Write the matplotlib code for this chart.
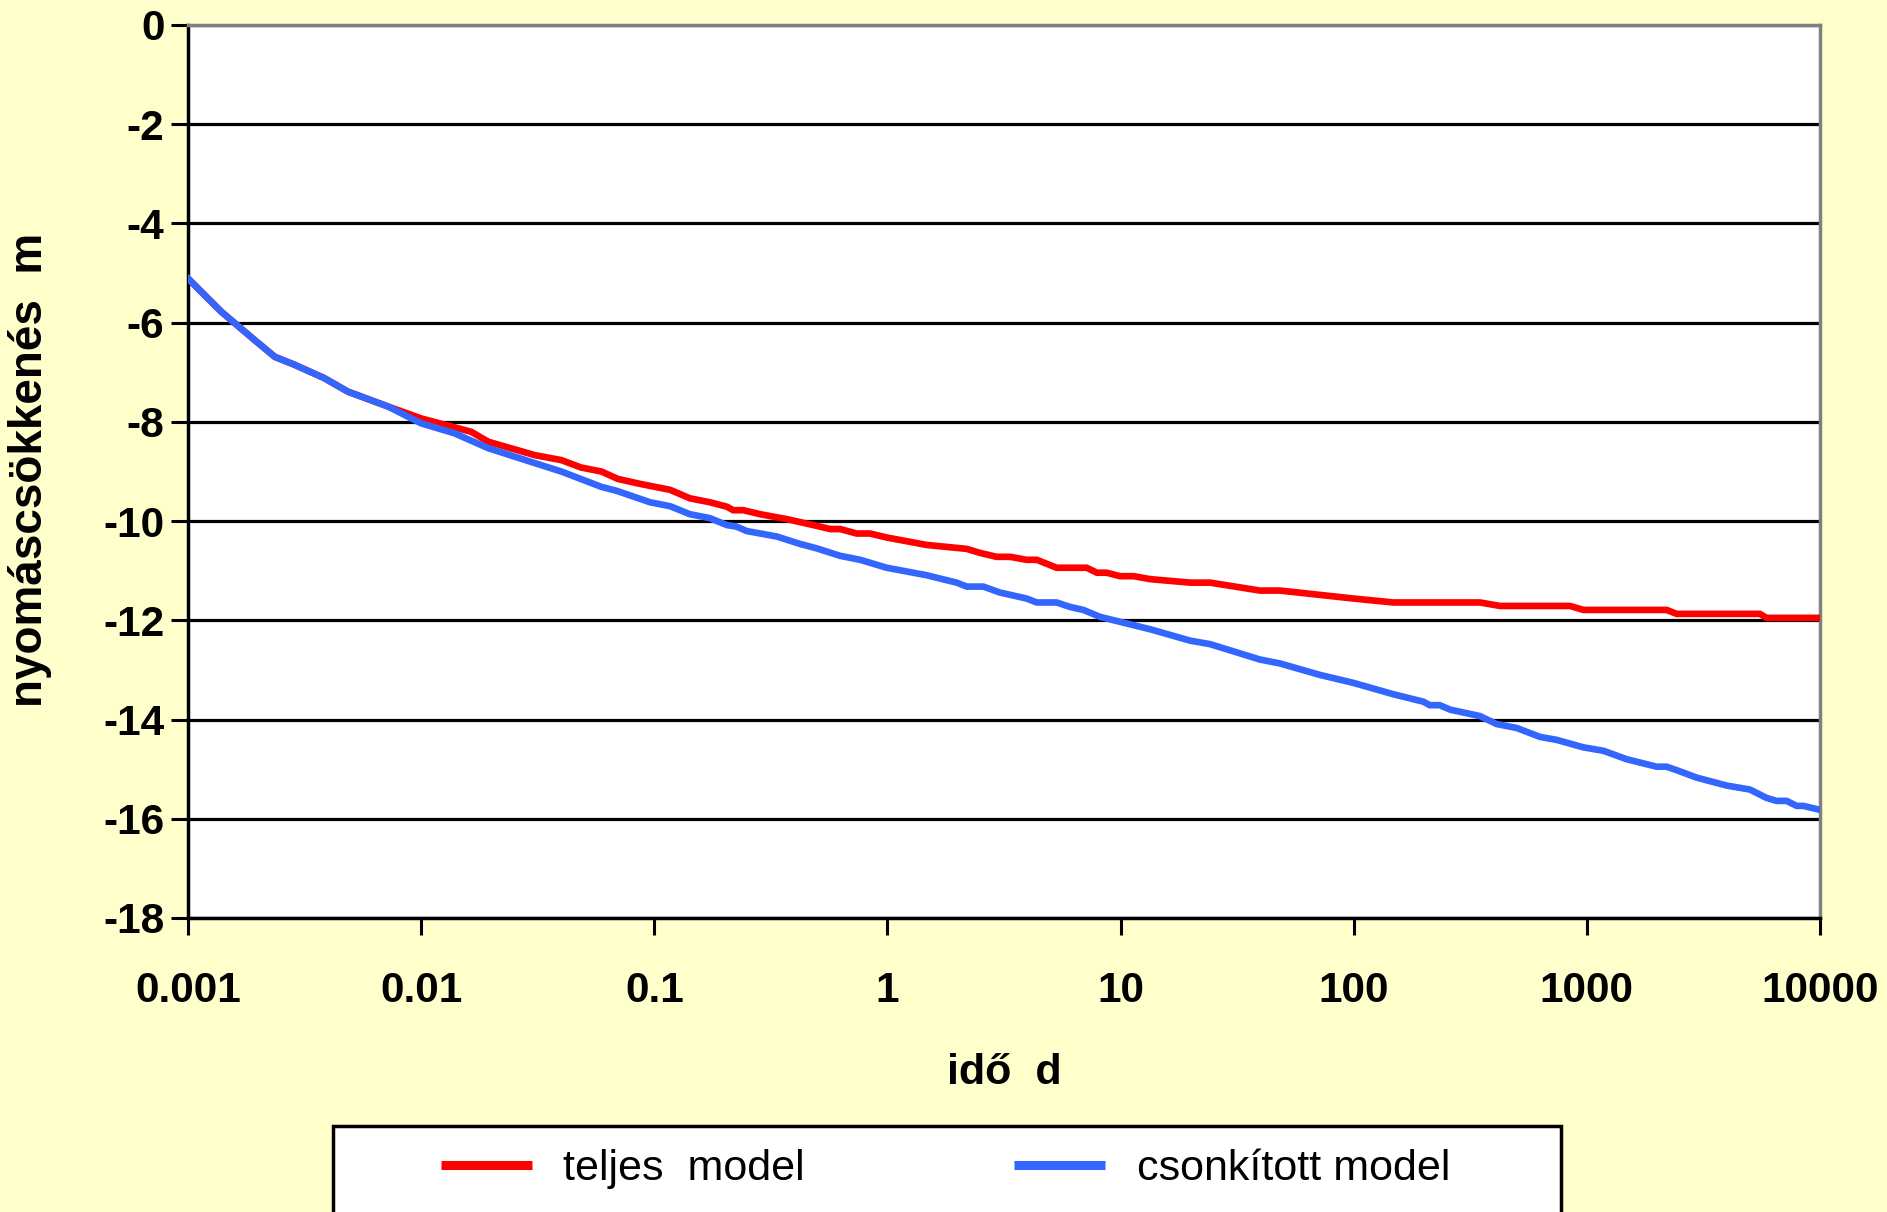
import matplotlib
matplotlib.use("Agg")
import matplotlib.pyplot as plt
from matplotlib.patches import Rectangle
from matplotlib.lines import Line2D

plt.rcParams['font.family'] = ['Liberation Sans', 'DejaVu Sans']

# ---- data ----
time_blue = [0.001, 0.00139, 0.00193, 0.00236, 0.00287, 0.00385, 0.00485, 0.00721,
             0.0100, 0.0139, 0.0194, 0.0307, 0.0399, 0.0593, 0.0690, 0.0959,
             0.117, 0.142, 0.173, 0.205, 0.225, 0.249, 0.335, 0.422, 0.498,
             0.627, 0.764, 0.993, 1.47, 1.98, 2.19, 2.58, 3.04, 3.95, 4.37,
             5.32, 6.07, 6.92, 8.17, 9.95, 13.4, 19.9, 24.2, 39.6, 48.3, 71.6,
             99.5, 148, 199, 212, 234, 259, 348, 410, 500, 630, 743, 966, 1178,
             1483, 1991, 2198, 2427, 2958, 3972, 5000, 5902, 6516, 7194, 7943,
             8472, 10000]
drop_blue = [-5.11, -5.78, -6.35, -6.69, -6.85, -7.12, -7.39, -7.69,
             -8.03, -8.23, -8.53, -8.83, -9.00, -9.31, -9.39, -9.62,
             -9.70, -9.86, -9.94, -10.08, -10.11, -10.20, -10.31, -10.46, -10.55,
             -10.70, -10.78, -10.94, -11.09, -11.24, -11.32, -11.32, -11.44, -11.56, -11.64,
             -11.64, -11.73, -11.79, -11.93, -12.03, -12.18, -12.41, -12.48, -12.79, -12.87, -13.10,
             -13.26, -13.49, -13.64, -13.71, -13.71, -13.80, -13.93, -14.09, -14.17, -14.35, -14.41, -14.56, -14.63,
             -14.80, -14.95, -14.95, -15.02, -15.17, -15.33, -15.41, -15.58, -15.64, -15.64, -15.74,
             -15.74, -15.82]

time_red = [0.001, 0.00139, 0.00193, 0.00236, 0.00287, 0.00385, 0.00485, 0.00721,
            0.0100, 0.0164, 0.0194, 0.0307, 0.0399, 0.0486, 0.0593, 0.0698, 0.0851,
            0.0959, 0.117, 0.142, 0.173, 0.205, 0.218, 0.241, 0.284, 0.370, 0.481,
            0.568, 0.627, 0.738, 0.841, 0.993, 1.47, 2.19, 2.49, 2.94, 3.36, 3.95,
            4.37, 5.32, 7.16, 7.91, 8.71, 9.95, 11.4, 13.4, 19.9, 24.2, 39.6, 48.3,
            99.5, 148, 259, 348, 424, 847, 966, 2198, 2427, 5521, 5902, 10000]
drop_red = [-5.11, -5.78, -6.35, -6.69, -6.85, -7.12, -7.39, -7.69,
            -7.93, -8.20, -8.40, -8.67, -8.77, -8.92, -9.00, -9.15, -9.24,
            -9.29, -9.37, -9.54, -9.62, -9.71, -9.78, -9.78, -9.86, -9.96, -10.08,
            -10.16, -10.16, -10.25, -10.25, -10.33, -10.48, -10.56, -10.64, -10.72, -10.72, -10.78,
            -10.78, -10.94, -10.94, -11.04, -11.04, -11.11, -11.11, -11.17, -11.24, -11.24, -11.40, -11.40,
            -11.56, -11.64, -11.64, -11.64, -11.71, -11.71, -11.79, -11.79, -11.87, -11.87, -11.95, -11.95]

x_ticks = [0.001, 0.01, 0.1, 1, 10, 100, 1000, 10000]
x_tick_labels = ['0.001', '0.01', '0.1', '1', '10', '100', '1000', '10000']
y_ticks = [-18, -16, -14, -12, -10, -8, -6, -4, -2, 0]
series_names = ['teljes  model', 'csonkított model']
series_colors = ['#FF0000', '#3366FF']

# ---- figure ----
W, H = 1887, 1212
fig = plt.figure(figsize=(W / 100, H / 100), dpi=100, facecolor='#FFFFCC')
L, R, T, B = 188, 1820, 25, 918
ax = fig.add_axes([L / W, 1 - B / H, (R - L) / W, (B - T) / H])
ax.set_facecolor('white')

ax.plot(time_red, drop_red, color=series_colors[0], lw=4.8, solid_joinstyle='miter', zorder=3)
ax.plot(time_blue, drop_blue, color=series_colors[1], lw=4.8, solid_joinstyle='miter', zorder=4)

ax.set_xscale('log')
ax.set_xlim(0.001, 10000)
ax.set_ylim(-18, 0)
ax.set_xticks(x_ticks)
ax.set_xticklabels(x_tick_labels)
ax.xaxis.set_minor_locator(matplotlib.ticker.NullLocator())
ax.set_yticks(y_ticks)
ax.set_yticklabels([str(v) for v in y_ticks])

ax.yaxis.grid(True, color='black', lw=2.3)
ax.xaxis.grid(False)
ax.set_axisbelow(True)

for s in ['left', 'bottom']:
    ax.spines[s].set_color('black')
    ax.spines[s].set_linewidth(2.5)
for s in ['top', 'right']:
    ax.spines[s].set_color('#808080')
    ax.spines[s].set_linewidth(2.5)

ax.tick_params(axis='both', direction='out', length=12, width=2.2, color='black')
ax.tick_params(axis='y', pad=5)
ax.tick_params(axis='x', pad=26)
for lab in ax.get_xticklabels() + ax.get_yticklabels():
    lab.set_fontsize(30.5)
    lab.set_fontweight('bold')

fig.text(1004 / W, 1 - 1073 / H, 'idő  d', fontsize=31, fontweight='bold',
         ha='center', va='center')
fig.text(30 / W, 1 - 470 / H, 'nyomáscsökkenés  m', fontsize=33, fontweight='bold',
         ha='center', va='center', rotation=90)

# legend box (cut off by the bottom edge, as in the reference)
box = Rectangle((333 / W, 1 - 1240 / H), (1561 - 333) / W, (1240 - 1126) / H,
                transform=fig.transFigure, facecolor='white', edgecolor='black',
                lw=2.5, zorder=1)
fig.patches.append(box)

handles = [Line2D([], [], color=c, lw=6.5, solid_capstyle='butt') for c in series_colors]
leg = fig.legend(handles, series_names, loc='center left',
                 bbox_to_anchor=(402 / W, 1 - 1169 / H), ncol=2, frameon=False,
                 fontsize=31, handlelength=2.11, handletextpad=0.74,
                 columnspacing=4.85, borderpad=0.4)
leg.set_zorder(5)

fig.savefig('out.png', dpi=100, facecolor=fig.get_facecolor())
